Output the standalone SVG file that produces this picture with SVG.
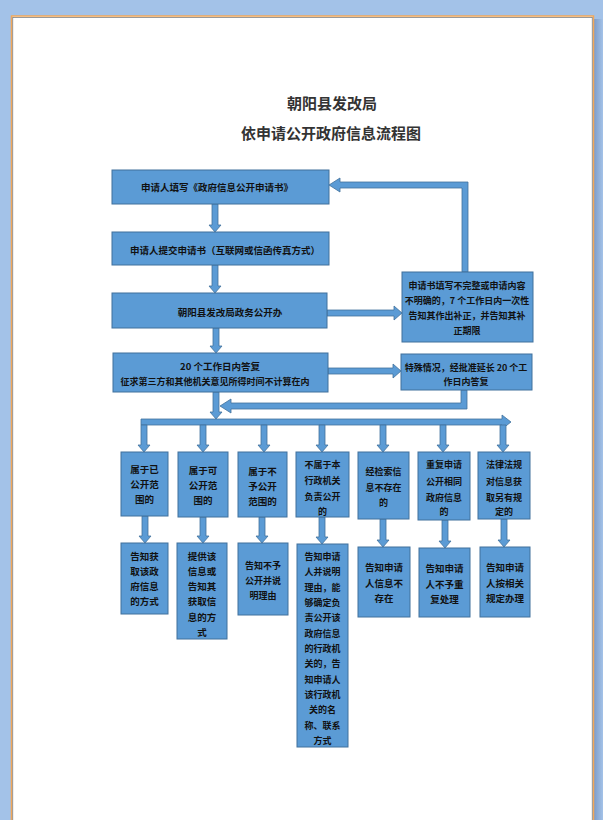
<svg xmlns="http://www.w3.org/2000/svg" width="603" height="820" viewBox="0 0 603 820">
<defs>
<linearGradient id="sh" x1="0" y1="0" x2="1" y2="0">
<stop offset="0" stop-color="#7E9CC8"/>
<stop offset="1" stop-color="#A3C2E8"/>
</linearGradient>
</defs>
<style>
.box{fill:#5B9BD5;stroke:#41719C;stroke-width:1}
.arr{fill:#5B9BD5;stroke:#41719C;stroke-width:0.8}
.t{font-family:"Noto Sans CJK SC","Noto Sans",sans-serif;font-weight:bold;font-size:9.5px;fill:#111;text-anchor:middle;dominant-baseline:central}
.s{font-size:9px}
.title{font-family:"Noto Sans CJK SC","Noto Sans",sans-serif;font-weight:bold;font-size:15px;fill:#333;text-anchor:middle;dominant-baseline:central}
</style>
<rect x="0" y="0" width="603" height="820" fill="#A3C2E8"/>
<rect x="594" y="19" width="9" height="801" fill="url(#sh)"/>
<rect x="11.5" y="16" width="582" height="810" fill="#FFFFFF" stroke="#F2A85A" stroke-width="1.5"/>
<rect x="12.8" y="17.3" width="579.4" height="810" fill="none" stroke="#555" stroke-width="0.6"/>

<g id="title">
<text class="title" x="332" y="102">朝阳县发改局</text>
<text class="title" x="331" y="132">依申请公开政府信息流程图</text>
</g>

<g id="connectors">
<polygon class="arr" points="212,204 218,204 218,225 221,225 215,232 209,225 212,225"/>
<polygon class="arr" points="212,265 218,265 218,286 221,286 215,293 209,286 212,286"/>
<polygon class="arr" points="213,328 219,328 219,346 222,346 216,353 210,346 213,346"/>
<polygon class="arr" points="213,392 219,392 219,412 222,412 216,419 210,412 213,412"/>
<polygon class="arr" points="327,310 394,310 394,306 402,313 394,320 394,316 327,316"/>
<polygon class="arr" points="328,368 393,368 393,364 401,371 393,378 393,374 328,374"/>
<polygon class="arr" points="468,272 468,182 340,182 340,178 329,185 340,192 340,188 462,188 462,272"/>
<polygon class="arr" points="461,390 467,390 467,409 231,409 231,413 220,406 231,399 231,403 461,403"/>
<polygon class="arr" points="141,419 502,419 502,415 511,422 502,429 502,425 141,425"/>
<polygon class="arr" points="141,425 147,425 147,445 150,445 144,452 138,445 141,445"/>
<polygon class="arr" points="200,425 206,425 206,445 209,445 203,452 197,445 200,445"/>
<polygon class="arr" points="261,425 267,425 267,445 270,445 264,452 258,445 261,445"/>
<polygon class="arr" points="319,425 325,425 325,445 328,445 322,452 316,445 319,445"/>
<polygon class="arr" points="380,425 386,425 386,445 389,445 383,452 377,445 380,445"/>
<polygon class="arr" points="440,425 446,425 446,445 449,445 443,452 437,445 440,445"/>
<polygon class="arr" points="500,425 506,425 506,445 509,445 503,452 497,445 500,445"/>
<polygon class="arr" points="142,516 148,516 148,536 151,536 145,543 139,536 142,536"/>
<polygon class="arr" points="200,517 206,517 206,536 209,536 203,543 197,536 200,536"/>
<polygon class="arr" points="259,517 265,517 265,536 268,536 262,543 256,536 259,536"/>
<polygon class="arr" points="319,517 325,517 325,537 328,537 322,544 316,537 319,537"/>
<polygon class="arr" points="380,519 386,519 386,540 389,540 383,547 377,540 380,540"/>
<polygon class="arr" points="442,520 448,520 448,541 451,541 445,548 439,541 442,541"/>
<polygon class="arr" points="501,519 507,519 507,540 510,540 504,547 498,540 501,540"/>
</g>

<g id="n1"><rect class="box" x="112" y="170" width="217" height="34"/><text class="t" x="217" y="187">申请人填写《政府信息公开申请书》</text></g>
<g id="n2"><rect class="box" x="112" y="232" width="217" height="33"/><text class="t" x="225" y="250">申请人提交申请书（互联网或信函传真方式）</text></g>
<g id="n3"><rect class="box" x="112" y="293" width="215" height="35"/><text class="t" x="230" y="312">朝阳县发改局政务公开办</text></g>
<g id="n4"><rect class="box" x="113" y="353" width="215" height="39"/><text class="t" x="220" y="366">20 个工作日内答复</text><text class="t s" x="215" y="381">征求第三方和其他机关意见所得时间不计算在内</text></g>
<g id="nA"><rect class="box" x="402" y="272" width="131" height="70"/>
<text class="t s" x="467" y="285">申请书填写不完整或申请内容</text>
<text class="t s" x="467" y="300">不明确的，7 个工作日内一次性</text>
<text class="t s" x="467" y="315">告知其作出补正，并告知其补</text>
<text class="t s" x="467" y="330">正期限</text></g>
<g id="nB"><rect class="box" x="401" y="354" width="131" height="36"/>
<text class="t s" x="466" y="367">特殊情况，经批准延长 20 个工</text>
<text class="t s" x="466" y="381">作日内答复</text></g>

<g id="r1"><rect class="box" x="121" y="452" width="47" height="64"/>
<text class="t" x="144.5" y="469">属于已</text><text class="t" x="144.5" y="484">公开范</text><text class="t" x="144.5" y="499">围的</text></g>
<g id="r2"><rect class="box" x="178" y="452" width="50" height="65"/>
<text class="t" x="203" y="470">属于可</text><text class="t" x="203" y="485">公开范</text><text class="t" x="203" y="500">围的</text></g>
<g id="r3"><rect class="box" x="238" y="452" width="49" height="65"/>
<text class="t" x="262.5" y="471">属于不</text><text class="t" x="262.5" y="486">予公开</text><text class="t" x="262.5" y="501">范围的</text></g>
<g id="r4"><rect class="box" x="296" y="452" width="53" height="65"/>
<text class="t s" x="322.5" y="464">不属于本</text><text class="t s" x="322.5" y="480">行政机关</text><text class="t s" x="322.5" y="496">负责公开</text><text class="t s" x="322.5" y="511">的</text></g>
<g id="r5"><rect class="box" x="358" y="452" width="51" height="67"/>
<text class="t s" x="383.5" y="471">经检索信</text><text class="t s" x="383.5" y="487">息不存在</text><text class="t s" x="383.5" y="502">的</text></g>
<g id="r6"><rect class="box" x="418" y="452" width="52" height="68"/>
<text class="t s" x="444" y="464">重复申请</text><text class="t s" x="444" y="481">公开相同</text><text class="t s" x="444" y="497">政府信息</text><text class="t s" x="444" y="511">的</text></g>
<g id="r7"><rect class="box" x="478" y="452" width="52" height="67"/>
<text class="t s" x="504" y="464">法律法规</text><text class="t s" x="504" y="481">对信息获</text><text class="t s" x="504" y="497">取另有规</text><text class="t s" x="504" y="511">定的</text></g>

<g id="b1"><rect class="box" x="121" y="543" width="47" height="71"/>
<text class="t" x="144.5" y="556">告知获</text><text class="t" x="144.5" y="571">取该政</text><text class="t" x="144.5" y="586">府信息</text><text class="t" x="144.5" y="601">的方式</text></g>
<g id="b2"><rect class="box" x="177" y="543" width="50" height="96"/>
<text class="t" x="202" y="556">提供该</text><text class="t" x="202" y="571">信息或</text><text class="t" x="202" y="586">告知其</text><text class="t" x="202" y="601">获取信</text><text class="t" x="202" y="617">息的方</text><text class="t" x="202" y="632">式</text></g>
<g id="b3"><rect class="box" x="238" y="543" width="50" height="72"/>
<text class="t s" x="263" y="565">告知不予</text><text class="t s" x="263" y="580">公开并说</text><text class="t s" x="263" y="595">明理由</text></g>
<g id="b4"><rect class="box" x="297" y="544" width="51" height="203"/>
<text class="t s" x="322.5" y="556">告知申请</text><text class="t s" x="322.5" y="571">人并说明</text><text class="t s" x="322.5" y="587">理由，能</text><text class="t s" x="322.5" y="602">够确定负</text><text class="t s" x="322.5" y="617">责公开该</text><text class="t s" x="322.5" y="633">政府信息</text><text class="t s" x="322.5" y="648">的行政机</text><text class="t s" x="322.5" y="663">关的，告</text><text class="t s" x="322.5" y="679">知申请人</text><text class="t s" x="322.5" y="694">该行政机</text><text class="t s" x="322.5" y="709">关的名</text><text class="t s" x="322.5" y="725">称、联系</text><text class="t s" x="322.5" y="740">方式</text></g>
<g id="b5"><rect class="box" x="358" y="547" width="52" height="70"/>
<text class="t" x="384" y="567">告知申请</text><text class="t" x="384" y="583">人信息不</text><text class="t" x="384" y="598">存在</text></g>
<g id="b6"><rect class="box" x="419" y="548" width="51" height="69"/>
<text class="t" x="444.5" y="568">告知申请</text><text class="t" x="444.5" y="584">人不予重</text><text class="t" x="444.5" y="599">复处理</text></g>
<g id="b7"><rect class="box" x="480" y="547" width="50" height="70"/>
<text class="t" x="505" y="567">告知申请</text><text class="t" x="505" y="583">人按相关</text><text class="t" x="505" y="598">规定办理</text></g>
</svg>
